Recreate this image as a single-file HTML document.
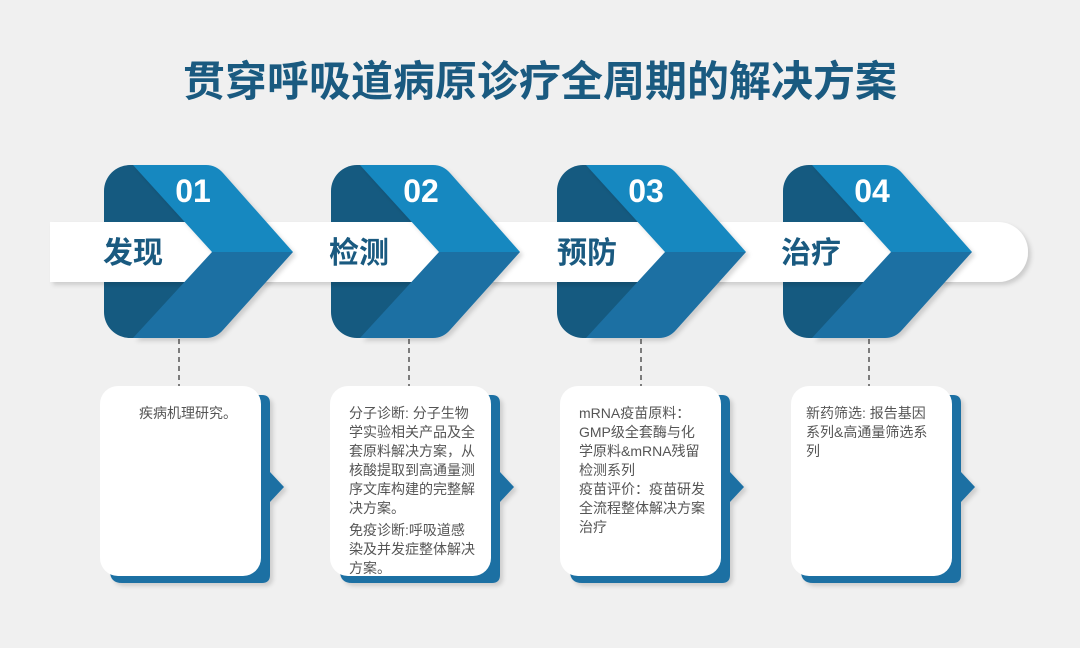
<!DOCTYPE html>
<html><head><meta charset="utf-8"><style>
html,body{margin:0;padding:0;background:#f0f0f0;}
svg{display:block;}
text{font-family:"Liberation Sans","Noto Sans CJK SC",sans-serif;}
</style></head><body>
<svg width="1080" height="648" viewBox="0 0 1080 648" xmlns="http://www.w3.org/2000/svg">
<defs>
<filter id="sh" x="-10%" y="-10%" width="130%" height="130%"><feDropShadow dx="3" dy="3" stdDeviation="2" flood-color="#000" flood-opacity="0.15"/></filter>
<g id="unit">
  <rect x="0" y="0" width="110" height="173" rx="26" fill="#155a80"/>
</g>
<g id="chev">
  <path d="M29,0 L102,0 Q112,0 119,8 L189,87 L108,87 Z" fill="#1688c0"/>
  <path d="M108,87 L189,87 L119,165 Q112,173 102,173 L29,173 Z" fill="#1d6fa3"/>
</g>
<g id="card">
  <path d="M10,9 H162 Q170,9 170,17 V86 L184,101 L170,116 V189 Q170,197 162,197 H22 Q10,197 10,185 Z" fill="#1d6fa3" filter="url(#sh)"/>
  <rect x="0" y="0" width="161" height="190" rx="18" fill="#fff"/>
</g>
</defs>
<text x="540" y="96" text-anchor="middle" font-size="42" font-weight="bold" fill="#1a5a80">贯穿呼吸道病原诊疗全周期的解决方案</text>

<use href="#unit" x="104" y="165"/>
<use href="#unit" x="331" y="165"/>
<use href="#unit" x="557" y="165"/>
<use href="#unit" x="783" y="165"/>

<g filter="url(#sh)">
<path d="M50,222 H998 A30,30 0 0 1 998,282 H50 Z" fill="#fff"/>
</g>
<g fill="#fff">
<path d="M170,222 L182,222 L212,252 L182,282 L170,282Z"/>
<path d="M397,222 L409,222 L439,252 L409,282 L397,282Z"/>
<path d="M623,222 L635,222 L665,252 L635,282 L623,282Z"/>
<path d="M849,222 L861,222 L891,252 L861,282 L849,282Z"/>
</g>
<g filter="url(#sh)">
<use href="#chev" x="104" y="165"/>
<use href="#chev" x="331" y="165"/>
<use href="#chev" x="557" y="165"/>
<use href="#chev" x="783" y="165"/>
</g>
<g font-size="32" font-weight="bold" fill="#fff" text-anchor="middle">
<text x="193" y="202">01</text>
<text x="421" y="202">02</text>
<text x="646" y="202">03</text>
<text x="872" y="202">04</text>
</g>
<g font-size="30" font-weight="bold" fill="#1a5a80">
<text x="103" y="263">发现</text>
<text x="329" y="263">检测</text>
<text x="557" y="263">预防</text>
<text x="781" y="263">治疗</text>
</g>
<g stroke="#555" stroke-width="1.5" stroke-dasharray="5,4">
<line x1="179" y1="339" x2="179" y2="386"/>
<line x1="409" y1="339" x2="409" y2="386"/>
<line x1="641" y1="339" x2="641" y2="386"/>
<line x1="869" y1="339" x2="869" y2="386"/>
</g>
<use href="#card" x="100" y="386"/>
<use href="#card" x="330" y="386"/>
<use href="#card" x="560" y="386"/>
<use href="#card" x="791" y="386"/>
<g font-size="14" fill="#555">
<text x="139" y="418">疾病机理研究。</text>
<text x="349" y="418">分子诊断: 分子生物</text>
<text x="349" y="437">学实验相关产品及全</text>
<text x="349" y="456">套原料解决方案，从</text>
<text x="349" y="475">核酸提取到高通量测</text>
<text x="349" y="494">序文库构建的完整解</text>
<text x="349" y="513">决方案。</text>
<text x="349" y="535">免疫诊断:呼吸道感</text>
<text x="349" y="554">染及并发症整体解决</text>
<text x="349" y="573">方案。</text>
<text x="579" y="418">mRNA疫苗原料：</text>
<text x="579" y="437">GMP级全套酶与化</text>
<text x="579" y="456">学原料&amp;mRNA残留</text>
<text x="579" y="475">检测系列</text>
<text x="579" y="494">疫苗评价：疫苗研发</text>
<text x="579" y="513">全流程整体解决方案</text>
<text x="579" y="532">治疗</text>
<text x="806" y="418">新药筛选: 报告基因</text>
<text x="806" y="437">系列&amp;高通量筛选系</text>
<text x="806" y="456">列</text>
</g>
</svg>
</body></html>
